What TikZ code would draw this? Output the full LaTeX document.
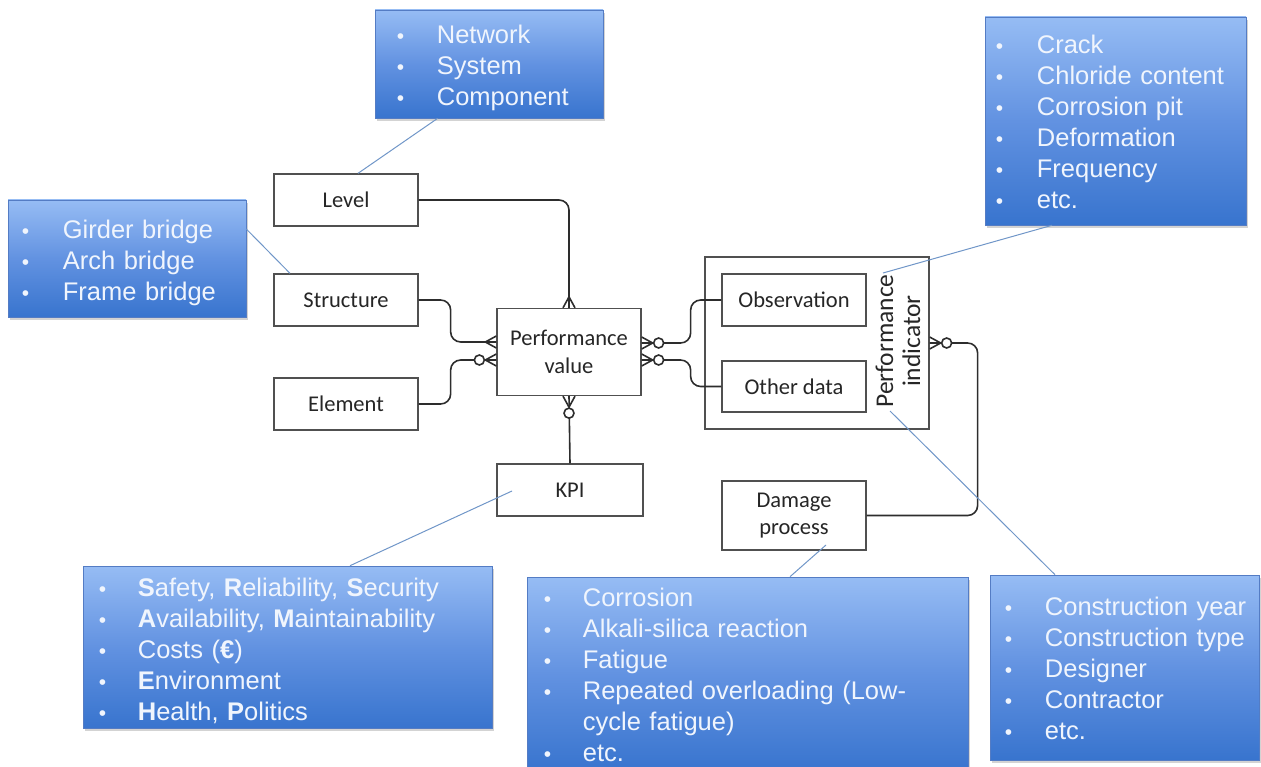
\documentclass[tikz,border=0pt]{standalone}
\usepackage{fontspec}
\setmainfont{Carlito}
\newfontfamily\arialf{Liberation Sans}
\usetikzlibrary{calc,shadows}

\definecolor{bltop}{RGB}{150,188,244}
\definecolor{blmid}{RGB}{98,146,225}
\definecolor{blbot}{RGB}{56,116,206}
\definecolor{blline}{RGB}{84,124,196}
\definecolor{bltext}{RGB}{240,245,253}
\definecolor{callout}{RGB}{112,150,200}
\definecolor{inkline}{RGB}{45,45,45}
\definecolor{entline}{RGB}{80,80,80}

\newlength\bulw
\newcommand\bi[1]{\makebox[\bulw][l]{\fontsize{21}{21}\selectfont\textbullet}#1}

\begin{document}
\begin{tikzpicture}[x=1pt,y=-1pt,
  ent/.style={draw=entline, line width=1.3pt, fill=white, text=black!85,
    font=\fontsize{22.5}{27.5}\selectfont, align=center, inner sep=0pt},
  conn/.style={draw=inkline, line width=1.6pt},
  bluebox/.style={draw=blline, line width=0.6pt,
    top color=bltop, bottom color=blbot, middle color=blmid,
    drop shadow={shadow xshift=2pt, shadow yshift=-3pt, opacity=0.35}},
  bluetext/.style={text=bltext, font=\arialf\fontsize{25.5}{31}\selectfont,
    align=left, inner ysep=0pt, anchor=west, text width=300pt},
  callline/.style={draw=callout, line width=1pt},
  crow/.pic={\draw[conn] (11,0) -- (0,6) (11,0) -- (0,-6);},
  crowo/.pic={\draw[conn] (11,0) -- (0,6) (11,0) -- (0,-6);
    \draw[conn, fill=white] (17,0) circle[radius=5pt];}
]
\useasboundingbox (0,0) rectangle (1261,767);

% entities
\node[ent, minimum width=144pt, minimum height=52pt] (level) at (346,200) {Level};
\node[ent, minimum width=144pt, minimum height=52pt] (structure) at (346,300) {Structure};
\node[ent, minimum width=144pt, minimum height=52pt] (element) at (346,404) {Element};
\node[ent, minimum width=144pt, minimum height=87pt] (pv) at (569,352) {Performance\\value};
\node[ent, minimum width=146pt, minimum height=52pt] (kpi) at (570,490) {KPI};
\node[ent, minimum width=224pt, minimum height=172pt] (pi) at (817,343) {};
\node[ent, minimum width=144pt, minimum height=52pt] (obs) at (794,300) {Observation};
\node[ent, minimum width=144pt, minimum height=51pt] (oth) at (794,386.5) {Other data};
\node[font=\fontsize{25.5}{27}\selectfont, text=black!85, align=center, rotate=90, inner sep=0pt] (pilabel) at (898,341) {Performance\\indicator};
\node[ent, minimum width=144pt, minimum height=69pt] (dmg) at (794,515.5) {Damage\\process};

% relationships
\draw[conn, rounded corners=10pt] (level.east) -| (pv.north);
\draw[conn, rounded corners=10pt] (structure.east) -- ++(32,0) |- ($(pv.west)+(0,-10)$);
\draw[conn, rounded corners=10pt] (element.east) -- ++(32,0) |- ($(pv.west)+(0,8)$);
\draw[conn, rounded corners=10pt] ($(pv.east)+(0,-9)$) -- ++(49,0) |- (obs.west);
\draw[conn, rounded corners=10pt] ($(pv.east)+(0,8)$) -- ++(49,0) |- (oth.west);
\draw[conn] (pv.south) -- (kpi.north);
\draw[conn, rounded corners=10pt] (pi.east) -- ++(48,0) |- (dmg.east);

% cardinality marks
\pic[rotate=90] at (pv.north) {crow};
\pic[rotate=180] at ($(pv.west)+(0,-10)$) {crow};
\pic[rotate=180] at ($(pv.west)+(0,8)$) {crowo};
\pic at ($(pv.east)+(0,-9)$) {crowo};
\pic at ($(pv.east)+(0,8)$) {crowo};
\pic[rotate=-90] at (pv.south) {crowo};
\pic at (pi.east) {crowo};

% annotation boxes
\node[bluebox, minimum width=228pt, minimum height=108pt] (net) at (489,64) {};
\node[bluetext, inner xsep=22pt] (nettext) at ($(net.west)+(0,4)$)
  {\setlength\bulw{40pt}\bi{Network}\\\bi{System}\\\bi{Component}};
\node[bluebox, minimum width=261pt, minimum height=208pt] (crack) at (1115.5,121) {};
\node[bluetext, inner xsep=11pt] (cracktext) at ($(crack.west)+(0,1)$)
  {\setlength\bulw{41pt}\bi{Crack}\\\bi{Chloride content}\\\bi{Corrosion pit}\\\bi{Deformation}\\\bi{Frequency}\\\bi{etc.}};
\node[bluebox, minimum width=238pt, minimum height=117pt] (girder) at (127,258.5) {};
\node[bluetext, inner xsep=14pt] (girdertext) at ($(girder.west)+(0,4)$)
  {\setlength\bulw{41pt}\bi{Girder bridge}\\\bi{Arch bridge}\\\bi{Frame bridge}};
\node[bluebox, minimum width=409pt, minimum height=162pt] (kpibox) at (287.5,647) {};
\node[bluetext, inner xsep=16pt, text width=377pt] (kpitext) at ($(kpibox.west)+(0,4)$)
  {\setlength\bulw{39pt}\bi{\textbf{S}afety, \textbf{R}eliability, \textbf{S}ecurity}\\
   \bi{\textbf{A}vailability, \textbf{M}aintainability}\\
   \bi{Costs (\textbf{€})}\\
   \bi{\textbf{E}nvironment}\\
   \bi{\textbf{H}ealth, \textbf{P}olitics}};
\node[bluebox, minimum width=441pt, minimum height=195pt] (dmgbox) at (747.5,674.5) {};
\node[bluetext, inner xsep=17pt, text width=407pt] (dmgtext) at (dmgbox.west)
  {\setlength\bulw{39pt}\bi{Corrosion}\\\bi{Alkali-silica reaction}\\\bi{Fatigue}\\
   \bi{Repeated overloading (Low-}\\\hspace*{\bulw}cycle fatigue)\\\bi{etc.}};
\node[bluebox, minimum width=269pt, minimum height=185pt] (conbox) at (1124.5,667.5) {};
\node[bluetext, inner xsep=15pt] (context) at ($(conbox.west)+(0,1)$)
  {\setlength\bulw{40pt}\bi{Construction year}\\\bi{Construction type}\\\bi{Designer}\\\bi{Contractor}\\\bi{etc.}};

% annotation leaders
\draw[callline] ($(net.south west)+(63,0)$) -- ($(level.north)+(12,0)$);
\draw[callline] ($(girder.east)+(0,-29.5)$) -- ($(structure.north)+(-56,0)$);
\draw[callline] ($(kpibox.north)+(62.5,0)$) -- ($(kpi)+(-58,1)$);
\draw[callline] ($(dmgbox.north)+(42.5,0)$) -- ($(dmg)+(32,29.5)$);
\draw[callline] ($(conbox.north)+(-69.5,0)$) -- ($(pi)+(73,68)$);
\draw[callline] ($(crack.south)+(-63.5,0)$) -- ($(pi)+(66,-70)$);
\end{tikzpicture}
\end{document}
